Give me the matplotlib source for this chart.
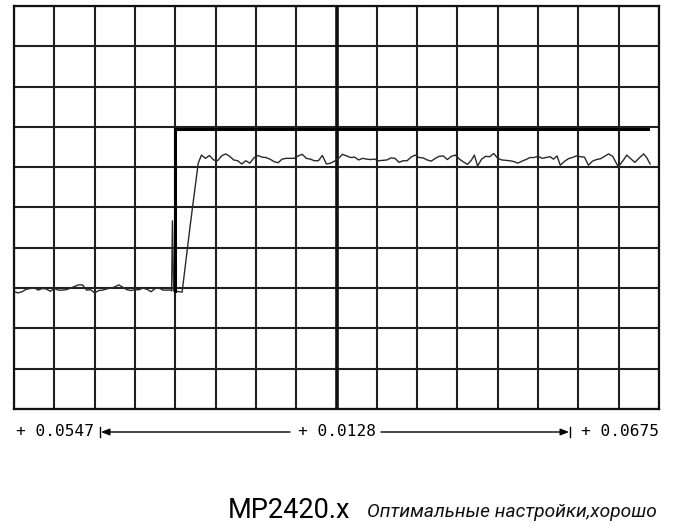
import numpy as np
import matplotlib
matplotlib.use("Agg")
import matplotlib.pyplot as plt
from matplotlib.lines import Line2D

# Daten in Rastereinheiten (x: 16 Teilungen, y: 10 Teilungen)
t_low = [0.0, 0.1, 0.2, 0.3, 0.4, 0.5, 0.6, 0.7, 0.8, 0.9,
         1.0, 1.1, 1.2, 1.3, 1.4, 1.5, 1.6, 1.7, 1.8, 1.9,
         2.0, 2.1, 2.2, 2.3, 2.4, 2.5, 2.6, 2.7, 2.8, 2.9,
         3.0, 3.1, 3.2, 3.3, 3.4, 3.5, 3.6, 3.7, 3.8, 3.9]
v_low = [2.92, 2.88, 2.91, 2.97, 2.99, 3.01, 2.95, 2.99, 2.98, 2.92,
         2.99, 2.95, 2.95, 2.96, 3.00, 3.04, 3.08, 3.08, 2.95, 2.96,
         2.88, 2.94, 2.95, 2.98, 3.00, 3.03, 3.08, 3.02, 2.96, 2.94,
         2.96, 2.96, 3.00, 2.97, 2.91, 2.99, 3.00, 2.95, 2.95, 2.95]

t_rise = [3.91, 3.93, 3.96, 4.17, 4.37, 4.57]
v_rise = [2.93, 4.67, 2.93, 2.90, 4.55, 6.10]

t_high = [4.65, 4.75, 4.85, 4.95, 5.05, 5.15, 5.25, 5.35, 5.45, 5.55,
          5.65, 5.75, 5.85, 5.95, 6.05, 6.15, 6.25, 6.35, 6.45, 6.55,
          6.65, 6.75, 6.85, 6.95, 7.05, 7.15, 7.25, 7.35, 7.45, 7.55,
          7.65, 7.75, 7.85, 7.95, 8.05, 8.15, 8.25, 8.35, 8.45, 8.55,
          8.65, 8.75, 8.85, 8.95, 9.05, 9.15, 9.25, 9.35, 9.45, 9.55,
          9.65, 9.75, 9.85, 9.95, 10.05, 10.15, 10.25, 10.35, 10.45, 10.55,
          10.65, 10.75, 10.85, 10.95, 11.05, 11.15, 11.25, 11.35,
          11.42, 11.5,
          11.6, 11.7, 11.8, 11.9, 12.0, 12.1, 12.2, 12.3, 12.4, 12.5,
          12.6, 12.7, 12.8, 12.9, 13.0, 13.1, 13.2, 13.3,
          13.38, 13.47,
          13.55, 13.65, 13.75, 13.85, 13.95, 14.05, 14.15, 14.25, 14.35, 14.45,
          14.55, 14.65, 14.75, 14.85,
          14.99, 15.12, 15.2, 15.3, 15.4, 15.5, 15.62, 15.7, 15.78]
v_high = [6.30, 6.22, 6.29, 6.18, 6.16, 6.28, 6.33, 6.27, 6.18, 6.16,
          6.08, 6.16, 6.10, 6.23, 6.29, 6.25, 6.24, 6.20, 6.14, 6.11,
          6.20, 6.22, 6.22, 6.22, 6.28, 6.32, 6.22, 6.20, 6.16, 6.16,
          6.29, 6.08, 6.10, 6.15, 6.22, 6.32, 6.28, 6.24, 6.25, 6.18,
          6.22, 6.20, 6.19, 6.20, 6.16, 6.17, 6.18, 6.23, 6.22, 6.12,
          6.16, 6.16, 6.25, 6.30, 6.24, 6.23, 6.18, 6.15, 6.22, 6.27,
          6.28, 6.19, 6.27, 6.30, 6.20, 6.13, 6.07, 6.18,
          6.30, 6.03,
          6.20, 6.27, 6.26, 6.34, 6.22, 6.18, 6.17, 6.16, 6.14, 6.10,
          6.15, 6.19, 6.24, 6.24, 6.27, 6.22, 6.24, 6.26,
          6.20, 6.28,
          6.05, 6.14, 6.21, 6.24, 6.28, 6.26, 6.25, 6.05, 6.15, 6.19,
          6.21, 6.27, 6.33, 6.27,
          6.01, 6.18, 6.30, 6.21, 6.12, 6.22, 6.33, 6.23, 6.08]

# Sollwert (Sprung)
t_soll = [4.0, 4.0, 15.73]
v_soll = [2.93, 6.95, 6.95]

labels = ["+ 0.0547", "+ 0.0128", "+ 0.0675"]
titel = "MP2420.x"
untertitel = "Оптимальные настройки,хорошо"

t = t_low + t_rise + t_high
v = v_low + v_rise + v_high

W, H = 682, 531
fig = plt.figure(figsize=(W / 100, H / 100), dpi=100)
ax = fig.add_axes([14 / W, 1 - 409 / H, 645 / W, 403 / H])

ax.set_xlim(0, 16)
ax.set_ylim(0, 10)
ax.set_xticks(range(17))
ax.set_yticks(range(11))
ax.tick_params(length=0, labelbottom=False, labelleft=False)
ax.grid(True, color="#202020", lw=1.5)
ax.set_axisbelow(True)
for s in ax.spines.values():
    s.set_color("#111111")
    s.set_linewidth(1.6)
ax.axvline(8, color="#111111", lw=2.6, zorder=1)

ax.plot(t, v, color="#2a2a2a", lw=1.0, zorder=3)
ax.plot(t_soll, v_soll, color="black", lw=2.2, zorder=4, solid_joinstyle="miter")

# Beschriftung unter dem Raster
def fx(px):
    return px / W

def fy(py):
    return 1 - py / H

yl = 432
fs = 11.6
fig.text(fx(16), fy(yl), labels[0], family="DejaVu Sans Mono", size=fs, va="center", ha="left")
fig.text(fx(337), fy(yl), labels[1], family="DejaVu Sans Mono", size=fs, va="center", ha="center")
fig.text(fx(659), fy(yl), labels[2], family="DejaVu Sans Mono", size=fs, va="center", ha="right")

ax.annotate("", xy=(fx(101), fy(yl)), xytext=(fx(290), fy(yl)), xycoords="figure fraction",
            arrowprops=dict(arrowstyle="-|>,head_length=0.5,head_width=0.2", lw=1, color="black",
                            shrinkA=0, shrinkB=0))
ax.annotate("", xy=(fx(569), fy(yl)), xytext=(fx(381), fy(yl)), xycoords="figure fraction",
            arrowprops=dict(arrowstyle="-|>,head_length=0.5,head_width=0.2", lw=1, color="black",
                            shrinkA=0, shrinkB=0))
fig.add_artist(Line2D([fx(100), fx(100)], [fy(yl - 5), fy(yl + 5)], color="black", lw=1))
fig.add_artist(Line2D([fx(570), fx(570)], [fy(yl - 5), fy(yl + 5)], color="black", lw=1))

fig.text(fx(228), fy(518), titel, family="Roboto", weight="normal", size=19.5, va="baseline", ha="left")
fig.text(fx(367), fy(517), untertitel, family="Roboto", style="italic", weight="normal",
         size=13.8, va="baseline", ha="left", color="#111111")

fig.savefig("out.png", dpi=100, facecolor="white")
